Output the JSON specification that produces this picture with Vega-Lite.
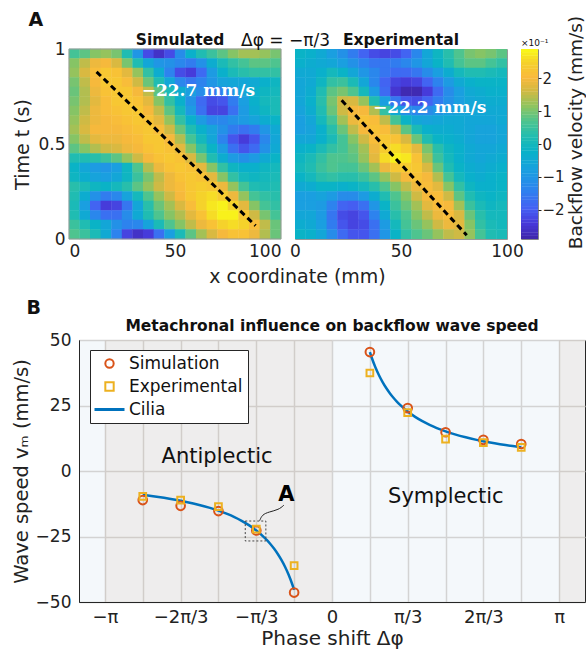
{
  "$schema": "https://vega.github.io/schema/vega-lite/v6.json",
  "padding": {"left": 10, "top": 10, "right": 0, "bottom": 0},
  "background": "white",
  "config": {
    "font": "DejaVu Sans",
    "view": {"stroke": null},
    "axis": {"labelFont": "DejaVu Sans", "titleFont": "DejaVu Sans", "labelColor": "#222", "titleColor": "#222", "titleFontWeight": "normal"},
    "title": {"font": "DejaVu Sans", "color": "#111", "fontWeight": "bold"}
  },
  "title": {"text": "A", "anchor": "start", "fontSize": 19, "fontWeight": "bold", "dx": 18, "dy": 15, "offset": 0},
  "datasets": {
    "sim": [
      {"x":2.5,"t":0.975,"v":0.6},{"x":7.5,"t":0.975,"v":0.8},{"x":12.5,"t":0.975,"v":1.1},{"x":17.5,"t":0.975,"v":1.2},{"x":22.5,"t":0.975,"v":1.0},{"x":27.5,"t":0.975,"v":0.2},{"x":32.5,"t":0.975,"v":-1.0},{"x":37.5,"t":0.975,"v":-2.2},{"x":42.5,"t":0.975,"v":-2.6},{"x":47.5,"t":0.975,"v":-2.2},{"x":52.5,"t":0.975,"v":-1.2},{"x":57.5,"t":0.975,"v":-0.3},{"x":62.5,"t":0.975,"v":0.2},{"x":67.5,"t":0.975,"v":0.5},{"x":72.5,"t":0.975,"v":0.8},{"x":77.5,"t":0.975,"v":1.1},{"x":82.5,"t":0.975,"v":1.3},{"x":87.5,"t":0.975,"v":1.3},{"x":92.5,"t":0.975,"v":1.2},{"x":97.5,"t":0.975,"v":1.0},
      {"x":2.5,"t":0.925,"v":1.1},{"x":7.5,"t":0.925,"v":1.5},{"x":12.5,"t":0.925,"v":1.9},{"x":17.5,"t":0.925,"v":2.0},{"x":22.5,"t":0.925,"v":1.7},{"x":27.5,"t":0.925,"v":1.0},{"x":32.5,"t":0.925,"v":0.2},{"x":37.5,"t":0.925,"v":-0.6},{"x":42.5,"t":0.925,"v":-1.0},{"x":47.5,"t":0.925,"v":-1.1},{"x":52.5,"t":0.925,"v":-1.3},{"x":57.5,"t":0.925,"v":-1.5},{"x":62.5,"t":0.925,"v":-1.1},{"x":67.5,"t":0.925,"v":-0.4},{"x":72.5,"t":0.925,"v":0.1},{"x":77.5,"t":0.925,"v":0.4},{"x":82.5,"t":0.925,"v":0.6},{"x":87.5,"t":0.925,"v":0.8},{"x":92.5,"t":0.925,"v":0.8},{"x":97.5,"t":0.925,"v":0.7},
      {"x":2.5,"t":0.875,"v":1.2},{"x":7.5,"t":0.875,"v":1.7},{"x":12.5,"t":0.875,"v":2.1},{"x":17.5,"t":0.875,"v":2.3},{"x":22.5,"t":0.875,"v":2.2},{"x":27.5,"t":0.875,"v":1.8},{"x":32.5,"t":0.875,"v":1.2},{"x":37.5,"t":0.875,"v":0.4},{"x":42.5,"t":0.875,"v":-0.4},{"x":47.5,"t":0.875,"v":-1.4},{"x":52.5,"t":0.875,"v":-2.2},{"x":57.5,"t":0.875,"v":-2.4},{"x":62.5,"t":0.875,"v":-1.8},{"x":67.5,"t":0.875,"v":-0.9},{"x":72.5,"t":0.875,"v":-0.3},{"x":77.5,"t":0.875,"v":0.1},{"x":82.5,"t":0.875,"v":0.3},{"x":87.5,"t":0.875,"v":0.4},{"x":92.5,"t":0.875,"v":0.4},{"x":97.5,"t":0.875,"v":0.4},
      {"x":2.5,"t":0.825,"v":1.0},{"x":7.5,"t":0.825,"v":1.5},{"x":12.5,"t":0.825,"v":2.0},{"x":17.5,"t":0.825,"v":2.3},{"x":22.5,"t":0.825,"v":2.3},{"x":27.5,"t":0.825,"v":2.1},{"x":32.5,"t":0.825,"v":1.6},{"x":37.5,"t":0.825,"v":0.9},{"x":42.5,"t":0.825,"v":0.2},{"x":47.5,"t":0.825,"v":-0.6},{"x":52.5,"t":0.825,"v":-1.3},{"x":57.5,"t":0.825,"v":-1.6},{"x":62.5,"t":0.825,"v":-1.4},{"x":67.5,"t":0.825,"v":-1.0},{"x":72.5,"t":0.825,"v":-0.7},{"x":77.5,"t":0.825,"v":-0.6},{"x":82.5,"t":0.825,"v":-0.6},{"x":87.5,"t":0.825,"v":-0.5},{"x":92.5,"t":0.825,"v":-0.3},{"x":97.5,"t":0.825,"v":-0.1},
      {"x":2.5,"t":0.775,"v":0.9},{"x":7.5,"t":0.775,"v":1.4},{"x":12.5,"t":0.775,"v":1.9},{"x":17.5,"t":0.775,"v":2.2},{"x":22.5,"t":0.775,"v":2.3},{"x":27.5,"t":0.775,"v":2.3},{"x":32.5,"t":0.775,"v":2.0},{"x":37.5,"t":0.775,"v":1.5},{"x":42.5,"t":0.775,"v":0.8},{"x":47.5,"t":0.775,"v":0.1},{"x":52.5,"t":0.775,"v":-0.4},{"x":57.5,"t":0.775,"v":-0.8},{"x":62.5,"t":0.775,"v":-1.2},{"x":67.5,"t":0.775,"v":-1.5},{"x":72.5,"t":0.775,"v":-1.4},{"x":77.5,"t":0.775,"v":-1.0},{"x":82.5,"t":0.775,"v":-0.6},{"x":87.5,"t":0.775,"v":-0.3},{"x":92.5,"t":0.775,"v":-0.1},{"x":97.5,"t":0.775,"v":0.0},
      {"x":2.5,"t":0.725,"v":1.0},{"x":7.5,"t":0.725,"v":1.4},{"x":12.5,"t":0.725,"v":1.8},{"x":17.5,"t":0.725,"v":2.1},{"x":22.5,"t":0.725,"v":2.3},{"x":27.5,"t":0.725,"v":2.3},{"x":32.5,"t":0.725,"v":2.2},{"x":37.5,"t":0.725,"v":1.8},{"x":42.5,"t":0.725,"v":1.1},{"x":47.5,"t":0.725,"v":0.4},{"x":52.5,"t":0.725,"v":-0.3},{"x":57.5,"t":0.725,"v":-1.1},{"x":62.5,"t":0.725,"v":-1.8},{"x":67.5,"t":0.725,"v":-2.2},{"x":72.5,"t":0.725,"v":-2.1},{"x":77.5,"t":0.725,"v":-1.5},{"x":82.5,"t":0.725,"v":-0.8},{"x":87.5,"t":0.725,"v":-0.3},{"x":92.5,"t":0.725,"v":0.0},{"x":97.5,"t":0.725,"v":0.1},
      {"x":2.5,"t":0.675,"v":1.1},{"x":7.5,"t":0.675,"v":1.5},{"x":12.5,"t":0.675,"v":1.9},{"x":17.5,"t":0.675,"v":2.1},{"x":22.5,"t":0.675,"v":2.2},{"x":27.5,"t":0.675,"v":2.3},{"x":32.5,"t":0.675,"v":2.3},{"x":37.5,"t":0.675,"v":2.0},{"x":42.5,"t":0.675,"v":1.5},{"x":47.5,"t":0.675,"v":0.8},{"x":52.5,"t":0.675,"v":0.0},{"x":57.5,"t":0.675,"v":-0.9},{"x":62.5,"t":0.675,"v":-1.7},{"x":67.5,"t":0.675,"v":-2.3},{"x":72.5,"t":0.675,"v":-2.3},{"x":77.5,"t":0.675,"v":-1.7},{"x":82.5,"t":0.675,"v":-0.9},{"x":87.5,"t":0.675,"v":-0.4},{"x":92.5,"t":0.675,"v":-0.1},{"x":97.5,"t":0.675,"v":0.1},
      {"x":2.5,"t":0.625,"v":1.2},{"x":7.5,"t":0.625,"v":1.6},{"x":12.5,"t":0.625,"v":1.9},{"x":17.5,"t":0.625,"v":2.0},{"x":22.5,"t":0.625,"v":2.1},{"x":27.5,"t":0.625,"v":2.2},{"x":32.5,"t":0.625,"v":2.3},{"x":37.5,"t":0.625,"v":2.2},{"x":42.5,"t":0.625,"v":1.8},{"x":47.5,"t":0.625,"v":1.2},{"x":52.5,"t":0.625,"v":0.4},{"x":57.5,"t":0.625,"v":-0.3},{"x":62.5,"t":0.625,"v":-0.9},{"x":67.5,"t":0.625,"v":-1.3},{"x":72.5,"t":0.625,"v":-1.3},{"x":77.5,"t":0.625,"v":-1.1},{"x":82.5,"t":0.625,"v":-0.9},{"x":87.5,"t":0.625,"v":-0.7},{"x":92.5,"t":0.625,"v":-0.4},{"x":97.5,"t":0.625,"v":-0.2},
      {"x":2.5,"t":0.575,"v":1.3},{"x":7.5,"t":0.575,"v":1.7},{"x":12.5,"t":0.575,"v":2.0},{"x":17.5,"t":0.575,"v":2.0},{"x":22.5,"t":0.575,"v":2.0},{"x":27.5,"t":0.575,"v":2.1},{"x":32.5,"t":0.575,"v":2.2},{"x":37.5,"t":0.575,"v":2.3},{"x":42.5,"t":0.575,"v":2.1},{"x":47.5,"t":0.575,"v":1.6},{"x":52.5,"t":0.575,"v":0.9},{"x":57.5,"t":0.575,"v":0.2},{"x":62.5,"t":0.575,"v":-0.3},{"x":67.5,"t":0.575,"v":-0.7},{"x":72.5,"t":0.575,"v":-1.1},{"x":77.5,"t":0.575,"v":-1.5},{"x":82.5,"t":0.575,"v":-1.7},{"x":87.5,"t":0.575,"v":-1.5},{"x":92.5,"t":0.575,"v":-1.0},{"x":97.5,"t":0.575,"v":-0.5},
      {"x":2.5,"t":0.525,"v":1.1},{"x":7.5,"t":0.525,"v":1.5},{"x":12.5,"t":0.525,"v":1.8},{"x":17.5,"t":0.525,"v":1.9},{"x":22.5,"t":0.525,"v":1.9},{"x":27.5,"t":0.525,"v":2.0},{"x":32.5,"t":0.525,"v":2.1},{"x":37.5,"t":0.525,"v":2.3},{"x":42.5,"t":0.525,"v":2.3},{"x":47.5,"t":0.525,"v":2.0},{"x":52.5,"t":0.525,"v":1.4},{"x":57.5,"t":0.525,"v":0.6},{"x":62.5,"t":0.525,"v":0.0},{"x":67.5,"t":0.525,"v":-0.6},{"x":72.5,"t":0.525,"v":-1.4},{"x":77.5,"t":0.525,"v":-2.1},{"x":82.5,"t":0.525,"v":-2.4},{"x":87.5,"t":0.525,"v":-2.1},{"x":92.5,"t":0.525,"v":-1.3},{"x":97.5,"t":0.525,"v":-0.6},
      {"x":2.5,"t":0.475,"v":0.8},{"x":7.5,"t":0.475,"v":1.1},{"x":12.5,"t":0.475,"v":1.4},{"x":17.5,"t":0.475,"v":1.6},{"x":22.5,"t":0.475,"v":1.7},{"x":27.5,"t":0.475,"v":1.9},{"x":32.5,"t":0.475,"v":2.0},{"x":37.5,"t":0.475,"v":2.2},{"x":42.5,"t":0.475,"v":2.3},{"x":47.5,"t":0.475,"v":2.2},{"x":52.5,"t":0.475,"v":1.8},{"x":57.5,"t":0.475,"v":1.1},{"x":62.5,"t":0.475,"v":0.4},{"x":67.5,"t":0.475,"v":-0.2},{"x":72.5,"t":0.475,"v":-0.9},{"x":77.5,"t":0.475,"v":-1.7},{"x":82.5,"t":0.475,"v":-2.1},{"x":87.5,"t":0.475,"v":-1.8},{"x":92.5,"t":0.475,"v":-1.1},{"x":97.5,"t":0.475,"v":-0.5},
      {"x":2.5,"t":0.425,"v":0.2},{"x":7.5,"t":0.425,"v":0.2},{"x":12.5,"t":0.425,"v":0.3},{"x":17.5,"t":0.425,"v":0.5},{"x":22.5,"t":0.425,"v":0.8},{"x":27.5,"t":0.425,"v":1.2},{"x":32.5,"t":0.425,"v":1.6},{"x":37.5,"t":0.425,"v":2.0},{"x":42.5,"t":0.425,"v":2.2},{"x":47.5,"t":0.425,"v":2.3},{"x":52.5,"t":0.425,"v":2.2},{"x":57.5,"t":0.425,"v":1.7},{"x":62.5,"t":0.425,"v":1.0},{"x":67.5,"t":0.425,"v":0.2},{"x":72.5,"t":0.425,"v":-0.4},{"x":77.5,"t":0.425,"v":-0.9},{"x":82.5,"t":0.425,"v":-1.1},{"x":87.5,"t":0.425,"v":-0.9},{"x":92.5,"t":0.425,"v":-0.5},{"x":97.5,"t":0.425,"v":-0.2},
      {"x":2.5,"t":0.375,"v":-0.2},{"x":7.5,"t":0.375,"v":-0.6},{"x":12.5,"t":0.375,"v":-0.9},{"x":17.5,"t":0.375,"v":-1.0},{"x":22.5,"t":0.375,"v":-0.8},{"x":27.5,"t":0.375,"v":-0.1},{"x":32.5,"t":0.375,"v":0.7},{"x":37.5,"t":0.375,"v":1.4},{"x":42.5,"t":0.375,"v":1.9},{"x":47.5,"t":0.375,"v":2.2},{"x":52.5,"t":0.375,"v":2.3},{"x":57.5,"t":0.375,"v":2.2},{"x":62.5,"t":0.375,"v":1.8},{"x":67.5,"t":0.375,"v":1.1},{"x":72.5,"t":0.375,"v":0.4},{"x":77.5,"t":0.375,"v":-0.1},{"x":82.5,"t":0.375,"v":-0.3},{"x":87.5,"t":0.375,"v":-0.3},{"x":92.5,"t":0.375,"v":-0.1},{"x":97.5,"t":0.375,"v":0.0},
      {"x":2.5,"t":0.325,"v":-0.1},{"x":7.5,"t":0.325,"v":-0.4},{"x":12.5,"t":0.325,"v":-0.7},{"x":17.5,"t":0.325,"v":-0.8},{"x":22.5,"t":0.325,"v":-0.6},{"x":27.5,"t":0.325,"v":-0.1},{"x":32.5,"t":0.325,"v":0.5},{"x":37.5,"t":0.325,"v":1.0},{"x":42.5,"t":0.325,"v":1.5},{"x":47.5,"t":0.325,"v":1.9},{"x":52.5,"t":0.325,"v":2.2},{"x":57.5,"t":0.325,"v":2.3},{"x":62.5,"t":0.325,"v":2.2},{"x":67.5,"t":0.325,"v":1.8},{"x":72.5,"t":0.325,"v":1.1},{"x":77.5,"t":0.325,"v":0.4},{"x":82.5,"t":0.325,"v":0.0},{"x":87.5,"t":0.325,"v":-0.1},{"x":92.5,"t":0.325,"v":0.0},{"x":97.5,"t":0.325,"v":0.1},
      {"x":2.5,"t":0.275,"v":0.3},{"x":7.5,"t":0.275,"v":0.1},{"x":12.5,"t":0.275,"v":-0.1},{"x":17.5,"t":0.275,"v":-0.2},{"x":22.5,"t":0.275,"v":0.0},{"x":27.5,"t":0.275,"v":0.3},{"x":32.5,"t":0.275,"v":0.8},{"x":37.5,"t":0.275,"v":1.2},{"x":42.5,"t":0.275,"v":1.6},{"x":47.5,"t":0.275,"v":1.9},{"x":52.5,"t":0.275,"v":2.1},{"x":57.5,"t":0.275,"v":2.3},{"x":62.5,"t":0.275,"v":2.4},{"x":67.5,"t":0.275,"v":2.3},{"x":72.5,"t":0.275,"v":1.9},{"x":77.5,"t":0.275,"v":1.2},{"x":82.5,"t":0.275,"v":0.6},{"x":87.5,"t":0.275,"v":0.2},{"x":92.5,"t":0.275,"v":0.1},{"x":97.5,"t":0.275,"v":0.2},
      {"x":2.5,"t":0.225,"v":0.2},{"x":7.5,"t":0.225,"v":-0.4},{"x":12.5,"t":0.225,"v":-1.1},{"x":17.5,"t":0.225,"v":-1.5},{"x":22.5,"t":0.225,"v":-1.3},{"x":27.5,"t":0.225,"v":-0.7},{"x":32.5,"t":0.225,"v":0.0},{"x":37.5,"t":0.225,"v":0.7},{"x":42.5,"t":0.225,"v":1.2},{"x":47.5,"t":0.225,"v":1.6},{"x":52.5,"t":0.225,"v":2.0},{"x":57.5,"t":0.225,"v":2.3},{"x":62.5,"t":0.225,"v":2.5},{"x":67.5,"t":0.225,"v":2.6},{"x":72.5,"t":0.225,"v":2.4},{"x":77.5,"t":0.225,"v":1.9},{"x":82.5,"t":0.225,"v":1.2},{"x":87.5,"t":0.225,"v":0.6},{"x":92.5,"t":0.225,"v":0.4},{"x":97.5,"t":0.225,"v":0.3},
      {"x":2.5,"t":0.175,"v":0.1},{"x":7.5,"t":0.175,"v":-0.8},{"x":12.5,"t":0.175,"v":-1.9},{"x":17.5,"t":0.175,"v":-2.4},{"x":22.5,"t":0.175,"v":-2.3},{"x":27.5,"t":0.175,"v":-1.6},{"x":32.5,"t":0.175,"v":-0.6},{"x":37.5,"t":0.175,"v":0.3},{"x":42.5,"t":0.175,"v":0.9},{"x":47.5,"t":0.175,"v":1.3},{"x":52.5,"t":0.175,"v":1.7},{"x":57.5,"t":0.175,"v":2.1},{"x":62.5,"t":0.175,"v":2.5},{"x":67.5,"t":0.175,"v":2.7},{"x":72.5,"t":0.175,"v":2.8},{"x":77.5,"t":0.175,"v":2.5},{"x":82.5,"t":0.175,"v":1.8},{"x":87.5,"t":0.175,"v":1.1},{"x":92.5,"t":0.175,"v":0.6},{"x":97.5,"t":0.175,"v":0.4},
      {"x":2.5,"t":0.125,"v":0.2},{"x":7.5,"t":0.125,"v":-0.5},{"x":12.5,"t":0.125,"v":-1.3},{"x":17.5,"t":0.125,"v":-1.7},{"x":22.5,"t":0.125,"v":-1.7},{"x":27.5,"t":0.125,"v":-1.2},{"x":32.5,"t":0.125,"v":-0.5},{"x":37.5,"t":0.125,"v":0.2},{"x":42.5,"t":0.125,"v":0.7},{"x":47.5,"t":0.125,"v":1.1},{"x":52.5,"t":0.125,"v":1.4},{"x":57.5,"t":0.125,"v":1.8},{"x":62.5,"t":0.125,"v":2.2},{"x":67.5,"t":0.125,"v":2.6},{"x":72.5,"t":0.125,"v":2.8},{"x":77.5,"t":0.125,"v":2.8},{"x":82.5,"t":0.125,"v":2.3},{"x":87.5,"t":0.125,"v":1.6},{"x":92.5,"t":0.125,"v":1.0},{"x":97.5,"t":0.125,"v":0.6},
      {"x":2.5,"t":0.075,"v":0.5},{"x":7.5,"t":0.075,"v":0.2},{"x":12.5,"t":0.075,"v":-0.2},{"x":17.5,"t":0.075,"v":-0.6},{"x":22.5,"t":0.075,"v":-1.1},{"x":27.5,"t":0.075,"v":-1.4},{"x":32.5,"t":0.075,"v":-1.3},{"x":37.5,"t":0.075,"v":-0.7},{"x":42.5,"t":0.075,"v":0.1},{"x":47.5,"t":0.075,"v":0.7},{"x":52.5,"t":0.075,"v":1.1},{"x":57.5,"t":0.075,"v":1.5},{"x":62.5,"t":0.075,"v":1.9},{"x":67.5,"t":0.075,"v":2.2},{"x":72.5,"t":0.075,"v":2.5},{"x":77.5,"t":0.075,"v":2.6},{"x":82.5,"t":0.075,"v":2.5},{"x":87.5,"t":0.075,"v":2.1},{"x":92.5,"t":0.075,"v":1.5},{"x":97.5,"t":0.075,"v":0.9},
      {"x":2.5,"t":0.025,"v":0.7},{"x":7.5,"t":0.025,"v":0.5},{"x":12.5,"t":0.025,"v":0.1},{"x":17.5,"t":0.025,"v":-0.5},{"x":22.5,"t":0.025,"v":-1.4},{"x":27.5,"t":0.025,"v":-2.3},{"x":32.5,"t":0.025,"v":-2.6},{"x":37.5,"t":0.025,"v":-2.4},{"x":42.5,"t":0.025,"v":-1.7},{"x":47.5,"t":0.025,"v":-0.8},{"x":52.5,"t":0.025,"v":0.1},{"x":57.5,"t":0.025,"v":0.8},{"x":62.5,"t":0.025,"v":1.3},{"x":67.5,"t":0.025,"v":1.7},{"x":72.5,"t":0.025,"v":2.0},{"x":77.5,"t":0.025,"v":2.2},{"x":82.5,"t":0.025,"v":2.2},{"x":87.5,"t":0.025,"v":1.9},{"x":92.5,"t":0.025,"v":1.4},{"x":97.5,"t":0.025,"v":0.9}
    ],
    "exp": [
      {"x":2.5,"t":0.975,"v":-0.2},{"x":7.5,"t":0.975,"v":-0.3},{"x":12.5,"t":0.975,"v":-0.5},{"x":17.5,"t":0.975,"v":-0.8},{"x":22.5,"t":0.975,"v":-1.1},{"x":27.5,"t":0.975,"v":-1.5},{"x":32.5,"t":0.975,"v":-1.9},{"x":37.5,"t":0.975,"v":-2.2},{"x":42.5,"t":0.975,"v":-2.3},{"x":47.5,"t":0.975,"v":-2.2},{"x":52.5,"t":0.975,"v":-1.9},{"x":57.5,"t":0.975,"v":-1.3},{"x":62.5,"t":0.975,"v":-0.6},{"x":67.5,"t":0.975,"v":-0.1},{"x":72.5,"t":0.975,"v":0.3},{"x":77.5,"t":0.975,"v":0.7},{"x":82.5,"t":0.975,"v":1.0},{"x":87.5,"t":0.975,"v":1.1},{"x":92.5,"t":0.975,"v":1.0},{"x":97.5,"t":0.975,"v":0.8},
      {"x":2.5,"t":0.925,"v":-0.3},{"x":7.5,"t":0.925,"v":-0.4},{"x":12.5,"t":0.925,"v":-0.5},{"x":17.5,"t":0.925,"v":-0.6},{"x":22.5,"t":0.925,"v":-0.8},{"x":27.5,"t":0.925,"v":-1.1},{"x":32.5,"t":0.925,"v":-1.4},{"x":37.5,"t":0.925,"v":-1.6},{"x":42.5,"t":0.925,"v":-1.6},{"x":47.5,"t":0.925,"v":-1.5},{"x":52.5,"t":0.925,"v":-1.3},{"x":57.5,"t":0.925,"v":-1.0},{"x":62.5,"t":0.925,"v":-0.6},{"x":67.5,"t":0.925,"v":-0.2},{"x":72.5,"t":0.925,"v":0.2},{"x":77.5,"t":0.925,"v":0.6},{"x":82.5,"t":0.925,"v":0.8},{"x":87.5,"t":0.925,"v":0.8},{"x":92.5,"t":0.925,"v":0.6},{"x":97.5,"t":0.925,"v":0.4},
      {"x":2.5,"t":0.875,"v":-0.5},{"x":7.5,"t":0.875,"v":-0.5},{"x":12.5,"t":0.875,"v":-0.3},{"x":17.5,"t":0.875,"v":0.0},{"x":22.5,"t":0.875,"v":-0.2},{"x":27.5,"t":0.875,"v":-0.6},{"x":32.5,"t":0.875,"v":-1.0},{"x":37.5,"t":0.875,"v":-1.3},{"x":42.5,"t":0.875,"v":-1.6},{"x":47.5,"t":0.875,"v":-1.8},{"x":52.5,"t":0.875,"v":-1.8},{"x":57.5,"t":0.875,"v":-1.6},{"x":62.5,"t":0.875,"v":-1.2},{"x":67.5,"t":0.875,"v":-0.8},{"x":72.5,"t":0.875,"v":-0.4},{"x":77.5,"t":0.875,"v":0.0},{"x":82.5,"t":0.875,"v":0.2},{"x":87.5,"t":0.875,"v":0.2},{"x":92.5,"t":0.875,"v":0.1},{"x":97.5,"t":0.875,"v":0.0},
      {"x":2.5,"t":0.825,"v":-0.6},{"x":7.5,"t":0.825,"v":-0.5},{"x":12.5,"t":0.825,"v":-0.1},{"x":17.5,"t":0.825,"v":0.4},{"x":22.5,"t":0.825,"v":0.5},{"x":27.5,"t":0.825,"v":0.1},{"x":32.5,"t":0.825,"v":-0.6},{"x":37.5,"t":0.825,"v":-1.3},{"x":42.5,"t":0.825,"v":-1.9},{"x":47.5,"t":0.825,"v":-2.3},{"x":52.5,"t":0.825,"v":-2.4},{"x":57.5,"t":0.825,"v":-2.3},{"x":62.5,"t":0.825,"v":-1.9},{"x":67.5,"t":0.825,"v":-1.4},{"x":72.5,"t":0.825,"v":-0.9},{"x":77.5,"t":0.825,"v":-0.5},{"x":82.5,"t":0.825,"v":-0.3},{"x":87.5,"t":0.825,"v":-0.2},{"x":92.5,"t":0.825,"v":-0.2},{"x":97.5,"t":0.825,"v":-0.2},
      {"x":2.5,"t":0.775,"v":-0.6},{"x":7.5,"t":0.775,"v":-0.4},{"x":12.5,"t":0.775,"v":0.2},{"x":17.5,"t":0.775,"v":0.8},{"x":22.5,"t":0.775,"v":1.0},{"x":27.5,"t":0.775,"v":0.7},{"x":32.5,"t":0.775,"v":0.0},{"x":37.5,"t":0.775,"v":-0.9},{"x":42.5,"t":0.775,"v":-1.8},{"x":47.5,"t":0.775,"v":-2.5},{"x":52.5,"t":0.775,"v":-2.8},{"x":57.5,"t":0.775,"v":-2.8},{"x":62.5,"t":0.775,"v":-2.4},{"x":67.5,"t":0.775,"v":-1.8},{"x":72.5,"t":0.775,"v":-1.2},{"x":77.5,"t":0.775,"v":-0.8},{"x":82.5,"t":0.775,"v":-0.5},{"x":87.5,"t":0.775,"v":-0.4},{"x":92.5,"t":0.775,"v":-0.3},{"x":97.5,"t":0.775,"v":-0.3},
      {"x":2.5,"t":0.725,"v":-0.6},{"x":7.5,"t":0.725,"v":-0.3},{"x":12.5,"t":0.725,"v":0.3},{"x":17.5,"t":0.725,"v":1.0},{"x":22.5,"t":0.725,"v":1.6},{"x":27.5,"t":0.725,"v":1.7},{"x":32.5,"t":0.725,"v":1.2},{"x":37.5,"t":0.725,"v":0.2},{"x":42.5,"t":0.725,"v":-0.8},{"x":47.5,"t":0.725,"v":-1.6},{"x":52.5,"t":0.725,"v":-2.1},{"x":57.5,"t":0.725,"v":-2.2},{"x":62.5,"t":0.725,"v":-1.9},{"x":67.5,"t":0.725,"v":-1.5},{"x":72.5,"t":0.725,"v":-1.1},{"x":77.5,"t":0.725,"v":-0.8},{"x":82.5,"t":0.725,"v":-0.6},{"x":87.5,"t":0.725,"v":-0.5},{"x":92.5,"t":0.725,"v":-0.4},{"x":97.5,"t":0.725,"v":-0.4},
      {"x":2.5,"t":0.675,"v":-0.7},{"x":7.5,"t":0.675,"v":-0.4},{"x":12.5,"t":0.675,"v":0.2},{"x":17.5,"t":0.675,"v":0.9},{"x":22.5,"t":0.675,"v":1.6},{"x":27.5,"t":0.675,"v":2.0},{"x":32.5,"t":0.675,"v":2.0},{"x":37.5,"t":0.675,"v":1.4},{"x":42.5,"t":0.675,"v":0.4},{"x":47.5,"t":0.675,"v":-0.5},{"x":52.5,"t":0.675,"v":-1.1},{"x":57.5,"t":0.675,"v":-1.3},{"x":62.5,"t":0.675,"v":-1.2},{"x":67.5,"t":0.675,"v":-1.0},{"x":72.5,"t":0.675,"v":-0.8},{"x":77.5,"t":0.675,"v":-0.7},{"x":82.5,"t":0.675,"v":-0.6},{"x":87.5,"t":0.675,"v":-0.6},{"x":92.5,"t":0.675,"v":-0.5},{"x":97.5,"t":0.675,"v":-0.5},
      {"x":2.5,"t":0.625,"v":-0.8},{"x":7.5,"t":0.625,"v":-0.6},{"x":12.5,"t":0.625,"v":0.0},{"x":17.5,"t":0.625,"v":0.6},{"x":22.5,"t":0.625,"v":1.3},{"x":27.5,"t":0.625,"v":1.9},{"x":32.5,"t":0.625,"v":2.2},{"x":37.5,"t":0.625,"v":2.1},{"x":42.5,"t":0.625,"v":1.5},{"x":47.5,"t":0.625,"v":0.6},{"x":52.5,"t":0.625,"v":-0.2},{"x":57.5,"t":0.625,"v":-0.6},{"x":62.5,"t":0.625,"v":-0.7},{"x":67.5,"t":0.625,"v":-0.6},{"x":72.5,"t":0.625,"v":-0.5},{"x":77.5,"t":0.625,"v":-0.5},{"x":82.5,"t":0.625,"v":-0.6},{"x":87.5,"t":0.625,"v":-0.6},{"x":92.5,"t":0.625,"v":-0.6},{"x":97.5,"t":0.625,"v":-0.5},
      {"x":2.5,"t":0.575,"v":-0.8},{"x":7.5,"t":0.575,"v":-0.7},{"x":12.5,"t":0.575,"v":-0.3},{"x":17.5,"t":0.575,"v":0.3},{"x":22.5,"t":0.575,"v":0.9},{"x":27.5,"t":0.575,"v":1.5},{"x":32.5,"t":0.575,"v":2.0},{"x":37.5,"t":0.575,"v":2.2},{"x":42.5,"t":0.575,"v":2.1},{"x":47.5,"t":0.575,"v":1.6},{"x":52.5,"t":0.575,"v":0.8},{"x":57.5,"t":0.575,"v":0.1},{"x":62.5,"t":0.575,"v":-0.3},{"x":67.5,"t":0.575,"v":-0.4},{"x":72.5,"t":0.575,"v":-0.4},{"x":77.5,"t":0.575,"v":-0.5},{"x":82.5,"t":0.575,"v":-0.6},{"x":87.5,"t":0.575,"v":-0.7},{"x":92.5,"t":0.575,"v":-0.7},{"x":97.5,"t":0.575,"v":-0.6},
      {"x":2.5,"t":0.525,"v":-0.6},{"x":7.5,"t":0.525,"v":-0.6},{"x":12.5,"t":0.525,"v":-0.3},{"x":17.5,"t":0.525,"v":0.1},{"x":22.5,"t":0.525,"v":0.6},{"x":27.5,"t":0.525,"v":1.1},{"x":32.5,"t":0.525,"v":1.6},{"x":37.5,"t":0.525,"v":2.1},{"x":42.5,"t":0.525,"v":2.3},{"x":47.5,"t":0.525,"v":2.2},{"x":52.5,"t":0.525,"v":1.7},{"x":57.5,"t":0.525,"v":0.9},{"x":62.5,"t":0.525,"v":0.2},{"x":67.5,"t":0.525,"v":-0.2},{"x":72.5,"t":0.525,"v":-0.3},{"x":77.5,"t":0.525,"v":-0.4},{"x":82.5,"t":0.525,"v":-0.6},{"x":87.5,"t":0.525,"v":-0.7},{"x":92.5,"t":0.525,"v":-0.7},{"x":97.5,"t":0.525,"v":-0.6},
      {"x":2.5,"t":0.475,"v":-0.3},{"x":7.5,"t":0.475,"v":-0.2},{"x":12.5,"t":0.475,"v":0.1},{"x":17.5,"t":0.475,"v":0.4},{"x":22.5,"t":0.475,"v":0.6},{"x":27.5,"t":0.475,"v":0.9},{"x":32.5,"t":0.475,"v":1.3},{"x":37.5,"t":0.475,"v":1.9},{"x":42.5,"t":0.475,"v":2.4},{"x":47.5,"t":0.475,"v":2.6},{"x":52.5,"t":0.475,"v":2.4},{"x":57.5,"t":0.475,"v":1.8},{"x":62.5,"t":0.475,"v":1.0},{"x":67.5,"t":0.475,"v":0.3},{"x":72.5,"t":0.475,"v":-0.1},{"x":77.5,"t":0.475,"v":-0.3},{"x":82.5,"t":0.475,"v":-0.5},{"x":87.5,"t":0.475,"v":-0.6},{"x":92.5,"t":0.475,"v":-0.6},{"x":97.5,"t":0.475,"v":-0.5},
      {"x":2.5,"t":0.425,"v":-0.1},{"x":7.5,"t":0.425,"v":0.1},{"x":12.5,"t":0.425,"v":0.4},{"x":17.5,"t":0.425,"v":0.7},{"x":22.5,"t":0.425,"v":0.7},{"x":27.5,"t":0.425,"v":0.8},{"x":32.5,"t":0.425,"v":1.2},{"x":37.5,"t":0.425,"v":1.8},{"x":42.5,"t":0.425,"v":2.6},{"x":47.5,"t":0.425,"v":2.8},{"x":52.5,"t":0.425,"v":2.7},{"x":57.5,"t":0.425,"v":2.2},{"x":62.5,"t":0.425,"v":1.3},{"x":67.5,"t":0.425,"v":0.5},{"x":72.5,"t":0.425,"v":0.0},{"x":77.5,"t":0.425,"v":-0.3},{"x":82.5,"t":0.425,"v":-0.5},{"x":87.5,"t":0.425,"v":-0.6},{"x":92.5,"t":0.425,"v":-0.5},{"x":97.5,"t":0.425,"v":-0.4},
      {"x":2.5,"t":0.375,"v":0.0},{"x":7.5,"t":0.375,"v":0.2},{"x":12.5,"t":0.375,"v":0.5},{"x":17.5,"t":0.375,"v":0.7},{"x":22.5,"t":0.375,"v":0.6},{"x":27.5,"t":0.375,"v":0.6},{"x":32.5,"t":0.375,"v":0.9},{"x":37.5,"t":0.375,"v":1.3},{"x":42.5,"t":0.375,"v":1.9},{"x":47.5,"t":0.375,"v":2.3},{"x":52.5,"t":0.375,"v":2.4},{"x":57.5,"t":0.375,"v":2.3},{"x":62.5,"t":0.375,"v":1.7},{"x":67.5,"t":0.375,"v":0.9},{"x":72.5,"t":0.375,"v":0.2},{"x":77.5,"t":0.375,"v":-0.2},{"x":82.5,"t":0.375,"v":-0.4},{"x":87.5,"t":0.375,"v":-0.5},{"x":92.5,"t":0.375,"v":-0.4},{"x":97.5,"t":0.375,"v":-0.3},
      {"x":2.5,"t":0.325,"v":-0.2},{"x":7.5,"t":0.325,"v":0.0},{"x":12.5,"t":0.325,"v":0.3},{"x":17.5,"t":0.325,"v":0.4},{"x":22.5,"t":0.325,"v":0.3},{"x":27.5,"t":0.325,"v":0.3},{"x":32.5,"t":0.325,"v":0.5},{"x":37.5,"t":0.325,"v":0.8},{"x":42.5,"t":0.325,"v":1.2},{"x":47.5,"t":0.325,"v":1.6},{"x":52.5,"t":0.325,"v":2.0},{"x":57.5,"t":0.325,"v":2.2},{"x":62.5,"t":0.325,"v":2.0},{"x":67.5,"t":0.325,"v":1.4},{"x":72.5,"t":0.325,"v":0.6},{"x":77.5,"t":0.325,"v":0.0},{"x":82.5,"t":0.325,"v":-0.3},{"x":87.5,"t":0.325,"v":-0.4},{"x":92.5,"t":0.325,"v":-0.3},{"x":97.5,"t":0.325,"v":-0.2},
      {"x":2.5,"t":0.275,"v":-0.5},{"x":7.5,"t":0.275,"v":-0.4},{"x":12.5,"t":0.275,"v":-0.2},{"x":17.5,"t":0.275,"v":-0.2},{"x":22.5,"t":0.275,"v":-0.3},{"x":27.5,"t":0.275,"v":-0.2},{"x":32.5,"t":0.275,"v":0.0},{"x":37.5,"t":0.275,"v":0.3},{"x":42.5,"t":0.275,"v":0.7},{"x":47.5,"t":0.275,"v":1.1},{"x":52.5,"t":0.275,"v":1.5},{"x":57.5,"t":0.275,"v":1.9},{"x":62.5,"t":0.275,"v":2.1},{"x":67.5,"t":0.275,"v":1.8},{"x":72.5,"t":0.275,"v":1.1},{"x":77.5,"t":0.275,"v":0.4},{"x":82.5,"t":0.275,"v":-0.1},{"x":87.5,"t":0.275,"v":-0.3},{"x":92.5,"t":0.275,"v":-0.3},{"x":97.5,"t":0.275,"v":-0.2},
      {"x":2.5,"t":0.225,"v":-0.8},{"x":7.5,"t":0.225,"v":-0.8},{"x":12.5,"t":0.225,"v":-0.7},{"x":17.5,"t":0.225,"v":-0.9},{"x":22.5,"t":0.225,"v":-1.2},{"x":27.5,"t":0.225,"v":-1.2},{"x":32.5,"t":0.225,"v":-0.9},{"x":37.5,"t":0.225,"v":-0.4},{"x":42.5,"t":0.225,"v":0.2},{"x":47.5,"t":0.225,"v":0.7},{"x":52.5,"t":0.225,"v":1.1},{"x":57.5,"t":0.225,"v":1.6},{"x":62.5,"t":0.225,"v":2.0},{"x":67.5,"t":0.225,"v":2.1},{"x":72.5,"t":0.225,"v":1.6},{"x":77.5,"t":0.225,"v":0.8},{"x":82.5,"t":0.225,"v":0.2},{"x":87.5,"t":0.225,"v":-0.1},{"x":92.5,"t":0.225,"v":-0.2},{"x":97.5,"t":0.225,"v":-0.1},
      {"x":2.5,"t":0.175,"v":-0.8},{"x":7.5,"t":0.175,"v":-0.8},{"x":12.5,"t":0.175,"v":-0.9},{"x":17.5,"t":0.175,"v":-1.4},{"x":22.5,"t":0.175,"v":-1.9},{"x":27.5,"t":0.175,"v":-2.0},{"x":32.5,"t":0.175,"v":-1.7},{"x":37.5,"t":0.175,"v":-1.0},{"x":42.5,"t":0.175,"v":-0.2},{"x":47.5,"t":0.175,"v":0.5},{"x":52.5,"t":0.175,"v":0.9},{"x":57.5,"t":0.175,"v":1.3},{"x":62.5,"t":0.175,"v":1.8},{"x":67.5,"t":0.175,"v":2.1},{"x":72.5,"t":0.175,"v":2.0},{"x":77.5,"t":0.175,"v":1.3},{"x":82.5,"t":0.175,"v":0.5},{"x":87.5,"t":0.175,"v":0.1},{"x":92.5,"t":0.175,"v":-0.1},{"x":97.5,"t":0.175,"v":0.0},
      {"x":2.5,"t":0.125,"v":-0.6},{"x":7.5,"t":0.125,"v":-0.6},{"x":12.5,"t":0.125,"v":-0.9},{"x":17.5,"t":0.125,"v":-1.6},{"x":22.5,"t":0.125,"v":-2.2},{"x":27.5,"t":0.125,"v":-2.3},{"x":32.5,"t":0.125,"v":-2.1},{"x":37.5,"t":0.125,"v":-1.4},{"x":42.5,"t":0.125,"v":-0.5},{"x":47.5,"t":0.125,"v":0.3},{"x":52.5,"t":0.125,"v":0.7},{"x":57.5,"t":0.125,"v":1.1},{"x":62.5,"t":0.125,"v":1.5},{"x":67.5,"t":0.125,"v":1.9},{"x":72.5,"t":0.125,"v":2.1},{"x":77.5,"t":0.125,"v":1.7},{"x":82.5,"t":0.125,"v":0.9},{"x":87.5,"t":0.125,"v":0.3},{"x":92.5,"t":0.125,"v":0.0},{"x":97.5,"t":0.125,"v":0.0},
      {"x":2.5,"t":0.075,"v":-0.4},{"x":7.5,"t":0.075,"v":-0.5},{"x":12.5,"t":0.075,"v":-0.8},{"x":17.5,"t":0.075,"v":-1.5},{"x":22.5,"t":0.075,"v":-2.1},{"x":27.5,"t":0.075,"v":-2.3},{"x":32.5,"t":0.075,"v":-2.2},{"x":37.5,"t":0.075,"v":-1.7},{"x":42.5,"t":0.075,"v":-0.9},{"x":47.5,"t":0.075,"v":0.0},{"x":52.5,"t":0.075,"v":0.6},{"x":57.5,"t":0.075,"v":0.9},{"x":62.5,"t":0.075,"v":1.2},{"x":67.5,"t":0.075,"v":1.6},{"x":72.5,"t":0.075,"v":1.9},{"x":77.5,"t":0.075,"v":1.8},{"x":82.5,"t":0.075,"v":1.1},{"x":87.5,"t":0.075,"v":0.4},{"x":92.5,"t":0.075,"v":0.1},{"x":97.5,"t":0.075,"v":0.0},
      {"x":2.5,"t":0.025,"v":-0.2},{"x":7.5,"t":0.025,"v":-0.3},{"x":12.5,"t":0.025,"v":-0.6},{"x":17.5,"t":0.025,"v":-1.2},{"x":22.5,"t":0.025,"v":-1.8},{"x":27.5,"t":0.025,"v":-2.1},{"x":32.5,"t":0.025,"v":-2.1},{"x":37.5,"t":0.025,"v":-1.7},{"x":42.5,"t":0.025,"v":-1.0},{"x":47.5,"t":0.025,"v":-0.2},{"x":52.5,"t":0.025,"v":0.4},{"x":57.5,"t":0.025,"v":0.7},{"x":62.5,"t":0.025,"v":0.9},{"x":67.5,"t":0.025,"v":1.2},{"x":72.5,"t":0.025,"v":1.5},{"x":77.5,"t":0.025,"v":1.6},{"x":82.5,"t":0.025,"v":1.2},{"x":87.5,"t":0.025,"v":0.6},{"x":92.5,"t":0.025,"v":0.2},{"x":97.5,"t":0.025,"v":0.1}
    ],
    "frame": [{"x":0,"x2":100,"t":0,"t2":1}],
    "simFit": [{"x":13,"t":0.88},{"x":88,"t":0.07}],
    "expFit": [{"x":22,"t":0.73},{"x":81,"t":0.02}],
    "simNote": [{"x":61,"t":0.78,"label":"−22.7 mm/s"}],
    "expNote": [{"x":63.5,"t":0.69,"label":"−22.2 mm/s"}],
    "bar": [
      {"v":-2.85},{"v":-2.75},{"v":-2.65},{"v":-2.55},{"v":-2.45},{"v":-2.35},{"v":-2.25},{"v":-2.15},{"v":-2.05},{"v":-1.95},
      {"v":-1.85},{"v":-1.75},{"v":-1.65},{"v":-1.55},{"v":-1.45},{"v":-1.35},{"v":-1.25},{"v":-1.15},{"v":-1.05},{"v":-0.95},
      {"v":-0.85},{"v":-0.75},{"v":-0.65},{"v":-0.55},{"v":-0.45},{"v":-0.35},{"v":-0.25},{"v":-0.15},{"v":-0.05},{"v":0.05},
      {"v":0.15},{"v":0.25},{"v":0.35},{"v":0.45},{"v":0.55},{"v":0.65},{"v":0.75},{"v":0.85},{"v":0.95},{"v":1.05},
      {"v":1.15},{"v":1.25},{"v":1.35},{"v":1.45},{"v":1.55},{"v":1.65},{"v":1.75},{"v":1.85},{"v":1.95},{"v":2.05},
      {"v":2.15},{"v":2.25},{"v":2.35},{"v":2.45},{"v":2.55},{"v":2.65},{"v":2.75},{"v":2.85}
    ],
    "speeds": [
      {"s":"Simulation","p":-2.618,"v":-11.1},{"s":"Simulation","p":-2.094,"v":-13.3},{"s":"Simulation","p":-1.571,"v":-15.3},{"s":"Simulation","p":-1.047,"v":-22.7},{"s":"Simulation","p":-0.524,"v":-46.4},
      {"s":"Simulation","p":0.524,"v":45.4},{"s":"Simulation","p":1.047,"v":24.0},{"s":"Simulation","p":1.571,"v":14.8},{"s":"Simulation","p":2.094,"v":11.9},{"s":"Simulation","p":2.618,"v":10.3},
      {"s":"Experimental","p":-2.618,"v":-9.7},{"s":"Experimental","p":-2.094,"v":-11.1},{"s":"Experimental","p":-1.571,"v":-13.6},{"s":"Experimental","p":-1.047,"v":-22.2},{"s":"Experimental","p":-0.524,"v":-36.1},
      {"s":"Experimental","p":0.524,"v":37.4},{"s":"Experimental","p":1.047,"v":22.3},{"s":"Experimental","p":1.571,"v":12.2},{"s":"Experimental","p":2.094,"v":10.8},{"s":"Experimental","p":2.618,"v":9.0},
      {"s":"Cilia","b":"neg","p":-2.618,"v":-9.08},{"s":"Cilia","b":"neg","p":-2.5,"v":-9.51},{"s":"Cilia","b":"neg","p":-2.4,"v":-9.9},{"s":"Cilia","b":"neg","p":-2.25,"v":-10.56},{"s":"Cilia","b":"neg","p":-2.094,"v":-11.35},{"s":"Cilia","b":"neg","p":-2.0,"v":-11.89},{"s":"Cilia","b":"neg","p":-1.85,"v":-12.85},{"s":"Cilia","b":"neg","p":-1.7,"v":-13.98},{"s":"Cilia","b":"neg","p":-1.571,"v":-15.13},{"s":"Cilia","b":"neg","p":-1.45,"v":-16.39},{"s":"Cilia","b":"neg","p":-1.35,"v":-17.61},{"s":"Cilia","b":"neg","p":-1.25,"v":-19.02},{"s":"Cilia","b":"neg","p":-1.15,"v":-20.67},{"s":"Cilia","b":"neg","p":-1.047,"v":-22.7},{"s":"Cilia","b":"neg","p":-0.95,"v":-25.02},{"s":"Cilia","b":"neg","p":-0.9,"v":-26.41},{"s":"Cilia","b":"neg","p":-0.85,"v":-27.96},{"s":"Cilia","b":"neg","p":-0.8,"v":-29.71},{"s":"Cilia","b":"neg","p":-0.75,"v":-31.69},{"s":"Cilia","b":"neg","p":-0.7,"v":-33.96},{"s":"Cilia","b":"neg","p":-0.65,"v":-36.57},{"s":"Cilia","b":"neg","p":-0.6,"v":-39.62},{"s":"Cilia","b":"neg","p":-0.55,"v":-43.22},{"s":"Cilia","b":"neg","p":-0.524,"v":-45.4},
      {"s":"Cilia","b":"pos","p":0.524,"v":45.4},{"s":"Cilia","b":"pos","p":0.55,"v":43.22},{"s":"Cilia","b":"pos","p":0.6,"v":39.62},{"s":"Cilia","b":"pos","p":0.65,"v":36.57},{"s":"Cilia","b":"pos","p":0.7,"v":33.96},{"s":"Cilia","b":"pos","p":0.75,"v":31.69},{"s":"Cilia","b":"pos","p":0.8,"v":29.71},{"s":"Cilia","b":"pos","p":0.85,"v":27.96},{"s":"Cilia","b":"pos","p":0.9,"v":26.41},{"s":"Cilia","b":"pos","p":0.95,"v":25.02},{"s":"Cilia","b":"pos","p":1.047,"v":22.7},{"s":"Cilia","b":"pos","p":1.15,"v":20.67},{"s":"Cilia","b":"pos","p":1.25,"v":19.02},{"s":"Cilia","b":"pos","p":1.35,"v":17.61},{"s":"Cilia","b":"pos","p":1.45,"v":16.39},{"s":"Cilia","b":"pos","p":1.571,"v":15.13},{"s":"Cilia","b":"pos","p":1.7,"v":13.98},{"s":"Cilia","b":"pos","p":1.85,"v":12.85},{"s":"Cilia","b":"pos","p":2.0,"v":11.89},{"s":"Cilia","b":"pos","p":2.094,"v":11.35},{"s":"Cilia","b":"pos","p":2.25,"v":10.56},{"s":"Cilia","b":"pos","p":2.4,"v":9.9},{"s":"Cilia","b":"pos","p":2.5,"v":9.51},{"s":"Cilia","b":"pos","p":2.618,"v":9.08}
    ],
    "bands": [{"p":-3.14159,"p2":0,"v":-50,"v2":50},{"p":3.14159,"p2":3.5,"v":-50,"v2":50}],
    "boxA": [{"p":-1.2,"p2":-0.915,"v":-26.7,"v2":-19.1}],
    "leader": [{"p":-1.001,"v":-18.97},{"p":-0.966,"v":-16.67},{"p":-0.873,"v":-15.63},{"p":-0.736,"v":-14.75},{"p":-0.667,"v":-13.07}],
    "tagA": [{"p":-0.63,"v":-9.1,"label":"A"}],
    "regions": [{"p":-1.59,"v":5.2,"label":"Antiplectic"},{"p":1.575,"v":-10,"label":"Symplectic"}]
  },
  "spacing": 13,
  "resolve": {"scale": {"color": "independent", "x": "independent", "y": "independent", "shape": "independent"}, "legend": {"color": "independent", "shape": "independent"}},
  "vconcat": [
    {
      "title": {"text": "Δφ = −π/3", "anchor": "middle", "fontSize": 17, "fontWeight": "normal", "dy": 39, "dx": -14},
      "bounds": "flush",
      "spacing": 14,
      "resolve": {"scale": {"x": "independent", "y": "independent", "color": "shared"}},
      "hconcat": [
        {
          "width": 202, "height": 190,
          "title": {"text": "Simulated", "fontSize": 15.5, "fontWeight": "bold", "offset": -8},
          "encoding": {
            "x": {"field": "x", "type": "quantitative", "title": "x coordinate (mm)", "scale": {"domain": [0, 100], "range": [-10, 202], "nice": false, "zero": false},
                  "axis": {"values": [0, 50, 100], "labelFontSize": 17, "titleFontSize": 19, "ticks": false, "domain": false, "grid": false, "labelPadding": 4, "titlePadding": 8, "titleX": 218, "titleAlign": "center", "labelFlush": true}},
            "y": {"field": "t", "type": "quantitative", "title": "Time t (s)", "scale": {"domain": [0, 1], "nice": false, "zero": false},
                  "axis": {"values": [0, 0.5, 1], "format": "~g", "labelFontSize": 17, "titleFontSize": 19, "ticks": false, "domain": false, "grid": false, "labelPadding": 4, "titlePadding": 5, "offset": 10, "labelFlush": false}}
          },
          "layer": [
            {"data": {"name": "sim"}, "mark": {"type": "rect", "width": 11, "height": 10, "clip": false},
             "encoding": {"color": {"field": "v", "type": "quantitative", "legend": null,
               "scale": {"domain": [-2.9, -2.436, -1.972, -1.392, -0.812, -0.232, 0.232, 0.696, 1.16, 1.624, 2.03, 2.49, 2.9], "range": ["#3e26a8", "#4638d8", "#4560f3", "#2d83ee", "#1a9fe0", "#08b2c8", "#22bdb0", "#4dc48f", "#8fc45f", "#d2b942", "#f9b93c", "#f5d12c", "#f9fb15"], "interpolate": "rgb"}}}},
            {"data": {"name": "frame"}, "mark": {"type": "rect", "fill": "transparent", "stroke": "#999", "strokeWidth": 1}, "encoding": {"x2": {"field": "x2"}, "y2": {"field": "t2"}}},
            {"data": {"name": "simFit"}, "mark": {"type": "line", "color": "#000", "strokeWidth": 3, "strokeDash": [6, 4]}, "encoding": {}},
            {"data": {"name": "simNote"}, "mark": {"type": "text", "font": "DejaVu Serif", "fontWeight": "bold", "fontSize": 17, "color": "#ffffff"}, "encoding": {"text": {"field": "label"}}}
          ]
        },
        {
          "width": 212, "height": 190,
          "view": {"stroke": "#999"},
          "title": {"text": "Experimental", "fontSize": 15.5, "fontWeight": "bold", "offset": 1},
          "encoding": {
            "x": {"field": "x", "type": "quantitative", "title": null, "scale": {"domain": [0, 100], "nice": false, "zero": false},
                  "axis": {"values": [0, 50, 100], "labelFontSize": 17, "ticks": false, "domain": false, "grid": false, "labelPadding": 4, "labelFlush": false}},
            "y": {"field": "t", "type": "quantitative", "scale": {"domain": [0, 1], "nice": false, "zero": false}, "axis": null}
          },
          "layer": [
            {"data": {"name": "exp"}, "mark": {"type": "rect", "width": 11, "height": 10, "clip": true},
             "encoding": {"color": {"field": "v", "type": "quantitative", "legend": null,
               "scale": {"domain": [-2.9, -2.436, -1.972, -1.392, -0.812, -0.232, 0.232, 0.696, 1.16, 1.624, 2.03, 2.49, 2.9], "range": ["#3e26a8", "#4638d8", "#4560f3", "#2d83ee", "#1a9fe0", "#08b2c8", "#22bdb0", "#4dc48f", "#8fc45f", "#d2b942", "#f9b93c", "#f5d12c", "#f9fb15"], "interpolate": "rgb"}}}},
            {"data": {"name": "expFit"}, "mark": {"type": "line", "color": "#000", "strokeWidth": 3, "strokeDash": [6, 4]}, "encoding": {}},
            {"data": {"name": "expNote"}, "mark": {"type": "text", "font": "DejaVu Serif", "fontWeight": "bold", "fontSize": 17, "color": "#ffffff"}, "encoding": {"text": {"field": "label"}}}
          ]
        },
        {
          "width": 17, "height": 190,
          "view": {"stroke": "#888"},
          "title": {"text": "×10⁻¹", "fontSize": 9, "fontWeight": "normal", "anchor": "start", "offset": -33},
          "data": {"name": "bar"},
          "mark": {"type": "rect", "height": 3.6, "clip": true},
          "encoding": {
            "y": {"field": "v", "type": "quantitative", "title": "Backflow velocity (mm/s)", "scale": {"domain": [-2.9, 2.9], "nice": false, "zero": false},
                  "axis": {"orient": "right", "values": [-2, -1, 0, 1, 2], "labelExpr": "datum.value < 0 ? '−' + abs(datum.value) : datum.label", "labelFontSize": 15, "titleFontSize": 18.5, "ticks": true, "tickSize": 3, "tickColor": "#222", "domain": false, "grid": false, "labelPadding": 1, "titlePadding": 2, "titleAngle": 270, "titleBaseline": "top", "titleY": 83}},
            "color": {"field": "v", "type": "quantitative", "legend": null,
              "scale": {"domain": [-2.9, -2.436, -1.972, -1.392, -0.812, -0.232, 0.232, 0.696, 1.16, 1.624, 2.03, 2.49, 2.9], "range": ["#3e26a8", "#4638d8", "#4560f3", "#2d83ee", "#1a9fe0", "#08b2c8", "#22bdb0", "#4dc48f", "#8fc45f", "#d2b942", "#f9b93c", "#f5d12c", "#f9fb15"], "interpolate": "rgb"}}
          }
        }
      ]
    },
    {
      "title": {"text": "B", "anchor": "start", "fontSize": 19, "fontWeight": "bold", "dx": 16, "offset": 0},
      "vconcat": [
        {
          "width": 506, "height": 262,
          "title": {"text": "Metachronal influence on backflow wave speed", "fontSize": 15.5, "fontWeight": "bold", "offset": -3},
          "view": {"fill": "#f4f8fb", "stroke": "#262626"},
          "encoding": {
            "x": {"field": "p", "type": "quantitative", "title": "Phase shift Δφ", "scale": {"domain": [-3.5, 3.5], "nice": false, "zero": false},
                  "axis": {"values": [-3.14159, -2.61799, -2.0944, -1.5708, -1.0472, -0.5236, 0, 0.5236, 1.0472, 1.5708, 2.0944, 2.61799, 3.14159],
                           "labelExpr": "round(datum.value*6/PI) == -6 ? '−π' : round(datum.value*6/PI) == -4 ? '−2π/3' : round(datum.value*6/PI) == -2 ? '−π/3' : round(datum.value*6/PI) == 0 ? '0' : round(datum.value*6/PI) == 2 ? 'π/3' : round(datum.value*6/PI) == 4 ? '2π/3' : round(datum.value*6/PI) == 6 ? 'π' : ''",
                           "labelFontSize": 18, "titleFontSize": 20, "grid": true, "gridColor": "#d3d3d3", "gridWidth": 1.5, "ticks": false, "labelPadding": 6, "titlePadding": 2, "domainColor": "#262626", "labelFlush": false}},
            "y": {"field": "v", "type": "quantitative", "title": "Wave speed vₘ (mm/s)", "scale": {"domain": [-50, 50], "nice": false, "zero": false},
                  "axis": {"values": [-50, -25, 0, 25, 50], "labelExpr": "datum.value < 0 ? '−' + abs(datum.value) : datum.label", "labelFontSize": 17, "titleFontSize": 19.5, "grid": true, "gridColor": "#d3d3d3", "gridWidth": 1.5, "ticks": false, "labelPadding": 8, "titlePadding": 4, "domainColor": "#262626", "labelFlush": false}}
          },
          "layer": [
            {"data": {"name": "bands"}, "mark": {"type": "rect", "color": "#c2a58f", "opacity": 0.12}, "encoding": {"x2": {"field": "p2"}, "y2": {"field": "v2"}}},
            {"data": {"name": "speeds"}, "transform": [{"filter": "datum.s === 'Cilia'"}],
             "mark": {"type": "line", "strokeWidth": 2.5, "interpolate": "monotone"},
             "encoding": {
               "detail": {"field": "b"},
               "color": {"field": "s", "type": "nominal", "scale": {"domain": ["Simulation", "Experimental", "Cilia"], "range": ["#D95319", "#EDB120", "#0072BD"]},
                         "legend": {"title": null, "orient": "none", "legendX": 11, "legendY": 10, "fillColor": "#ffffff", "strokeColor": "#262626", "padding": 5, "labelFontSize": 17, "labelFont": "DejaVu Sans", "labelColor": "#111", "rowPadding": 5, "symbolOffset": 6, "labelOffset": 11,
                                    "encode": {"symbols": {"update": {"size": {"signal": "datum.value === 'Cilia' ? 900 : 70"}, "strokeWidth": {"signal": "datum.value === 'Cilia' ? 3 : 2"}}}}}}
             }},
            {"data": {"name": "speeds"}, "transform": [{"filter": "datum.s === 'Simulation'"}],
             "mark": {"type": "point", "filled": false, "strokeWidth": 2, "size": 75, "opacity": 1},
             "encoding": {
               "color": {"field": "s", "type": "nominal", "scale": {"domain": ["Simulation", "Experimental", "Cilia"], "range": ["#D95319", "#EDB120", "#0072BD"]},
                         "legend": {"title": null, "orient": "none", "legendX": 11, "legendY": 10, "fillColor": "#ffffff", "strokeColor": "#262626", "padding": 5, "labelFontSize": 17, "labelFont": "DejaVu Sans", "labelColor": "#111", "rowPadding": 5, "symbolOffset": 6, "labelOffset": 11,
                                    "encode": {"symbols": {"update": {"size": {"signal": "datum.value === 'Cilia' ? 900 : 70"}, "strokeWidth": {"signal": "datum.value === 'Cilia' ? 3 : 2"}}}}}},
               "shape": {"field": "s", "type": "nominal", "scale": {"domain": ["Simulation", "Experimental", "Cilia"], "range": ["circle", "square", "stroke"]},
                         "legend": {"title": null, "orient": "none", "legendX": 11, "legendY": 10, "fillColor": "#ffffff", "strokeColor": "#262626", "padding": 5, "labelFontSize": 17, "labelFont": "DejaVu Sans", "labelColor": "#111", "rowPadding": 5, "symbolOffset": 6, "labelOffset": 11,
                                    "encode": {"symbols": {"update": {"size": {"signal": "datum.value === 'Cilia' ? 900 : 70"}, "strokeWidth": {"signal": "datum.value === 'Cilia' ? 3 : 2"}}}}}}
             }},
            {"data": {"name": "speeds"}, "transform": [{"filter": "datum.s === 'Experimental'"}],
             "mark": {"type": "point", "filled": false, "strokeWidth": 2, "size": 45, "opacity": 1},
             "encoding": {
               "color": {"field": "s", "type": "nominal", "scale": {"domain": ["Simulation", "Experimental", "Cilia"], "range": ["#D95319", "#EDB120", "#0072BD"]},
                         "legend": {"title": null, "orient": "none", "legendX": 11, "legendY": 10, "fillColor": "#ffffff", "strokeColor": "#262626", "padding": 5, "labelFontSize": 17, "labelFont": "DejaVu Sans", "labelColor": "#111", "rowPadding": 5, "symbolOffset": 6, "labelOffset": 11,
                                    "encode": {"symbols": {"update": {"size": {"signal": "datum.value === 'Cilia' ? 900 : 70"}, "strokeWidth": {"signal": "datum.value === 'Cilia' ? 3 : 2"}}}}}},
               "shape": {"field": "s", "type": "nominal", "scale": {"domain": ["Simulation", "Experimental", "Cilia"], "range": ["circle", "square", "stroke"]},
                         "legend": {"title": null, "orient": "none", "legendX": 11, "legendY": 10, "fillColor": "#ffffff", "strokeColor": "#262626", "padding": 5, "labelFontSize": 17, "labelFont": "DejaVu Sans", "labelColor": "#111", "rowPadding": 5, "symbolOffset": 6, "labelOffset": 11,
                                    "encode": {"symbols": {"update": {"size": {"signal": "datum.value === 'Cilia' ? 900 : 70"}, "strokeWidth": {"signal": "datum.value === 'Cilia' ? 3 : 2"}}}}}}
             }},
            {"data": {"name": "boxA"}, "mark": {"type": "rect", "fill": "transparent", "stroke": "#444", "strokeWidth": 1, "strokeDash": [2, 2]}, "encoding": {"x2": {"field": "p2"}, "y2": {"field": "v2"}}},
            {"data": {"name": "leader"}, "mark": {"type": "line", "color": "#222", "strokeWidth": 1, "interpolate": "basis"}, "encoding": {}},
            {"data": {"name": "tagA"}, "mark": {"type": "text", "font": "DejaVu Sans", "fontWeight": "bold", "fontSize": 21, "color": "#000"}, "encoding": {"text": {"field": "label"}}},
            {"data": {"name": "regions"}, "mark": {"type": "text", "font": "DejaVu Sans", "fontSize": 21, "color": "#111"}, "encoding": {"text": {"field": "label"}}}
          ]
        }
      ]
    }
  ]
}
